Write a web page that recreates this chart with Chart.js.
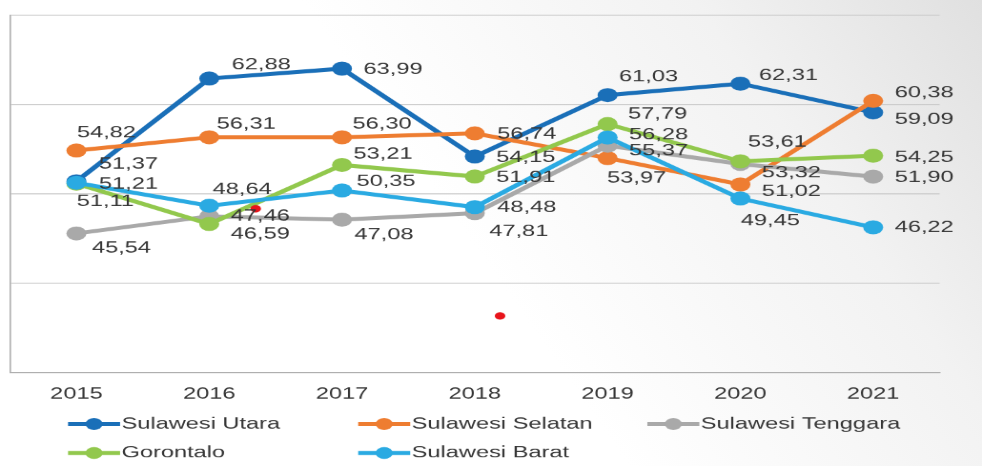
<!DOCTYPE html>
<html>
<head>
<meta charset="utf-8">
<script src="https://cdn.jsdelivr.net/npm/chart.js@4/dist/chart.umd.min.js"></script>
<style>
  html, body { margin: 0; padding: 0; width: 982px; height: 466px; overflow: hidden; }
  body { background: linear-gradient(235deg, #e0e0e0 0%, #f2f2f2 22%, #ffffff 52%); }
  #wrap { position: absolute; left: 0; top: 0; width: 687px; height: 466px;
          transform: scaleX(1.4294); transform-origin: 0 0; }
</style>
</head>
<body>
<div id="wrap"><canvas id="c"></canvas></div>
<script>
// Categories and series
const years = ['2015', '2016', '2017', '2018', '2019', '2020', '2021'];
const sulawesiUtara    = [51.37, 62.88, 63.99, 54.15, 61.03, 62.31, 59.09];
const sulawesiSelatan  = [54.82, 56.31, 56.30, 56.74, 53.97, 51.02, 60.38];
const sulawesiTenggara = [45.54, 47.46, 47.08, 47.81, 55.37, 53.32, 51.90];
const gorontalo        = [51.11, 46.59, 53.21, 51.91, 57.79, 53.61, 54.25];
const sulawesiBarat    = [51.21, 48.64, 50.35, 48.48, 56.28, 49.45, 46.22];
const seriesNames = ['Sulawesi Utara', 'Sulawesi Selatan', 'Sulawesi Tenggara', 'Gorontalo', 'Sulawesi Barat'];
// two small red dots
const redDots = [{ x: 1.35, y: 48.3 }, { x: 3.19, y: 36.3 }];

// Horizontal stretch applied to the whole canvas
const SX = 982 / 687;
const FONT = '"Liberation Sans", Arial, Helvetica, sans-serif';
const FONT_SIZE = 16.5;
const TEXT_COLOR = '#363636';
const colors = ['#1a6fb8', '#ee7d31', '#a9a9a9', '#92c84d', '#2aaae2'];

// Value label placement, [dx, dy] from the point in screen pixels
const labelOffsets = [
  [[52,-17],[52,-14],[51,1],[51,1],[41,-18],[48,-8],[51,7]],
  [[30,-18],[37,-13],[40,-13],[52,1],[29,20],[51,7],[51,-8]],
  [[45,15],[51,0],[42,15],[44,18],[51,5],[51,9],[51,1]],
  [[29,18],[51,10],[41,-11],[51,1],[50,-10],[37,-19],[51,2]],
  [[52,1],[33,-16],[44,-9],[52,0],[51,-3],[30,22],[51,0]]
];

const seriesData = [sulawesiUtara, sulawesiSelatan, sulawesiTenggara, gorontalo, sulawesiBarat];

function fmt(v) { return v.toFixed(2).replace('.', ','); }

const valueLabels = {
  id: 'valueLabels',
  afterDatasetsDraw(chart) {
    const ctx = chart.ctx;
    ctx.save();
    ctx.font = FONT_SIZE + 'px ' + FONT;
    ctx.fillStyle = TEXT_COLOR;
    ctx.textAlign = 'center';
    ctx.textBaseline = 'middle';
    for (let i = 0; i < seriesData.length; i++) {
      const meta = chart.getDatasetMeta(i);
      meta.data.forEach((pt, j) => {
        const off = labelOffsets[i][j];
        ctx.fillText(fmt(seriesData[i][j]), pt.x + off[0] / SX, pt.y + off[1]);
      });
    }
    ctx.restore();
  }
};

// Legend laid out in three fixed columns
const gridLegend = {
  id: 'gridLegend',
  afterDraw(chart) {
    const ctx = chart.ctx;
    const colX = [68 / SX, 358 / SX, 647 / SX];
    const rowY = [424, 453];
    const lineLen = 52 / SX;
    ctx.save();
    ctx.font = FONT_SIZE + 'px ' + FONT;
    ctx.textBaseline = 'middle';
    ctx.textAlign = 'left';
    seriesNames.forEach((name, k) => {
      const x = colX[k % 3], y = rowY[Math.floor(k / 3)];
      ctx.strokeStyle = colors[k];
      ctx.lineWidth = 4;
      ctx.beginPath();
      ctx.moveTo(x, y);
      ctx.lineTo(x + lineLen, y);
      ctx.stroke();
      ctx.fillStyle = colors[k];
      ctx.beginPath();
      ctx.arc(x + lineLen / 2, y, 6, 0, Math.PI * 2);
      ctx.fill();
      ctx.fillStyle = TEXT_COLOR;
      ctx.fillText(name, x + lineLen + 1, y);
    });
    ctx.restore();
  }
};

const orders = [5, 4, 3, 2, 1];
const datasets = seriesData.map((d, i) => ({
  label: seriesNames[i],
  data: d,
  borderColor: colors[i],
  backgroundColor: colors[i],
  pointBackgroundColor: colors[i],
  pointBorderWidth: 0,
  pointRadius: 7,
  borderWidth: 4,
  tension: 0,
  order: orders[i],
  xAxisID: 'x',
  yAxisID: 'y'
}));
datasets.push({
  type: 'scatter',
  label: 'dots',
  data: redDots,
  xAxisID: 'xDots',
  yAxisID: 'y',
  pointRadius: 3.7,
  pointBorderWidth: 0,
  pointBackgroundColor: '#e8141b',
  backgroundColor: '#e8141b',
  showLine: false,
  order: 0
});

new Chart(document.getElementById('c'), {
  type: 'line',
  data: { labels: years, datasets },
  options: {
    responsive: true,
    maintainAspectRatio: false,
    animation: false,
    devicePixelRatio: 1.5,
    layout: { padding: { left: 6, right: 30, top: 15, bottom: 50 } },
    plugins: { legend: { display: false }, tooltip: { enabled: false } },
    scales: {
      x: {
        type: 'category',
        offset: true,
        grid: { display: false, drawTicks: false },
        border: { display: true, color: '#a8a8a8', width: 1 },
        ticks: { color: TEXT_COLOR, font: { family: FONT, size: FONT_SIZE }, padding: 12, maxRotation: 0 }
      },
      xDots: { type: 'linear', min: -0.5, max: 6.5, display: false },
      y: {
        min: 30, max: 70,
        ticks: { stepSize: 10, display: false },
        grid: { color: '#c8c8c8', lineWidth: 1, drawTicks: false },
        border: { display: true, color: '#a8a8a8', width: 1 }
      }
    }
  },
  plugins: [valueLabels, gridLegend]
});
</script>
</body>
</html>
